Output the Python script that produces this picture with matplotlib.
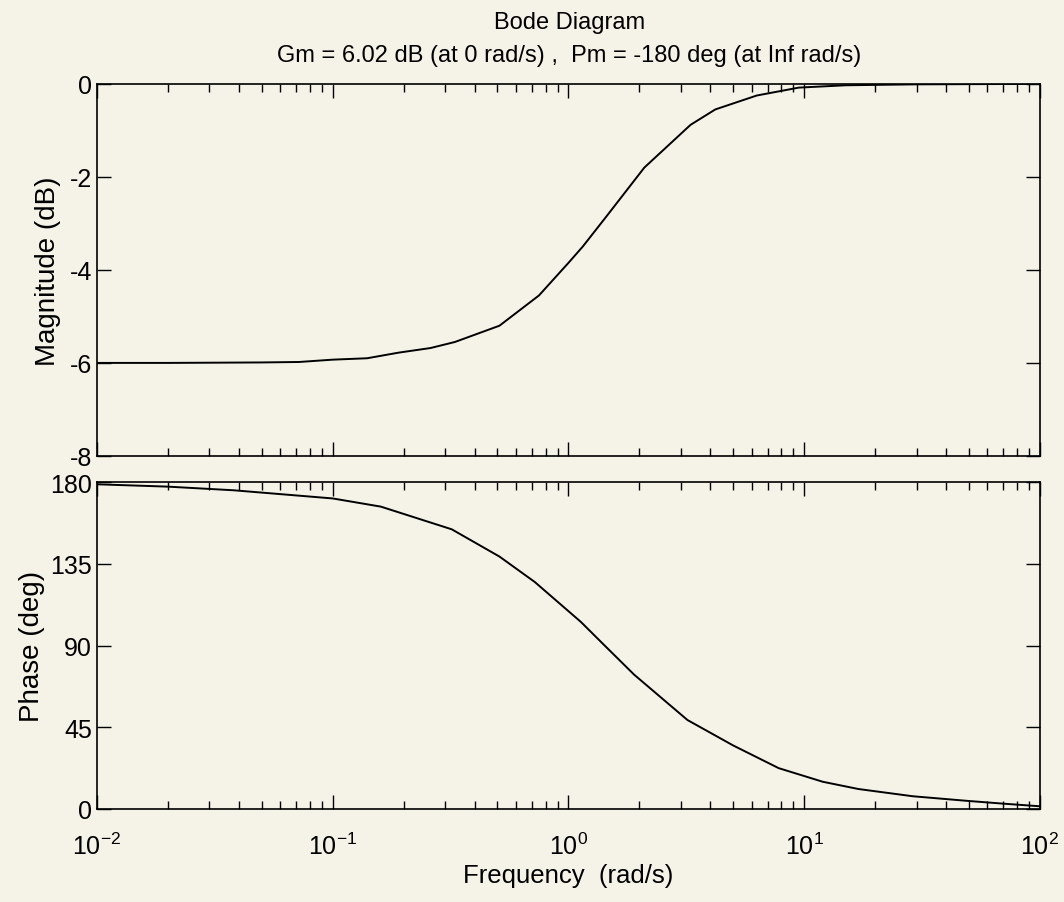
import matplotlib
matplotlib.use('Agg')
import matplotlib.pyplot as plt
from matplotlib.ticker import LogLocator, NullFormatter

plt.rcParams['font.family'] = ['Liberation Sans', 'DejaVu Sans']
plt.rcParams['mathtext.fontset'] = 'custom'
plt.rcParams['mathtext.rm'] = 'Liberation Sans'
plt.rcParams['mathtext.default'] = 'regular'
plt.rcParams['axes.unicode_minus'] = False

# magnitude curve
mag_w = [0.01, 0.02, 0.05, 0.072, 0.1, 0.14, 0.19, 0.26, 0.33, 0.51, 0.75,
         1.0, 1.15, 1.45, 2.1, 3.3, 4.2, 6.3, 9.5, 15, 30, 100]
mag_db = [-6.0, -6.0, -5.99, -5.98, -5.93, -5.9, -5.78, -5.68, -5.55, -5.2, -4.55,
          -3.85, -3.5, -2.85, -1.8, -0.88, -0.55, -0.25, -0.08, -0.03, -0.01, 0.0]

# phase curve
ph_w = [0.01, 0.02, 0.038, 0.1, 0.16, 0.32, 0.51, 0.72, 1.13, 1.4, 1.9,
        3.2, 5.0, 7.8, 12, 17, 29, 49, 69, 100]
ph_deg = [178.8, 177.5, 175.5, 171, 166.5, 154, 139, 125, 103, 91, 74,
          49, 35, 22.5, 15, 11, 7, 4.5, 3, 1.5]

mag_ticks = [0, -2, -4, -6, -8]
ph_ticks = [0, 45, 90, 135, 180]

paper = '#f5f2e7'
fig = plt.figure(figsize=(10.64, 9.03), dpi=100, facecolor=paper)
ax1 = fig.add_axes([0.0912, 0.494, 0.886, 0.412], facecolor=paper)
ax2 = fig.add_axes([0.0912, 0.103, 0.886, 0.362], facecolor=paper)

ax1.semilogx(mag_w, mag_db, color='black', lw=1.4)
ax2.semilogx(ph_w, ph_deg, color='black', lw=1.4)

for ax in (ax1, ax2):
    ax.set_xlim(0.01, 100)
    ax.xaxis.set_major_locator(LogLocator(base=10, numticks=10))
    ax.xaxis.set_minor_locator(LogLocator(base=10, subs=range(2, 10), numticks=10))
    ax.xaxis.set_minor_formatter(NullFormatter())
    ax.tick_params(which='both', direction='in', top=True, right=True,
                   labelsize=18, width=1.0)
    ax.tick_params(which='major', length=10)
    ax.tick_params(which='minor', length=6)
    for s in ax.spines.values():
        s.set_linewidth(1.2)

ax1.set_ylim(-8, 0)
ax1.set_yticks(mag_ticks)
ax1.tick_params(labelbottom=False)
ax1.set_ylabel('Magnitude (dB)', fontsize=20, labelpad=6)

ax2.set_ylim(0, 180)
ax2.set_yticks(ph_ticks)
ax2.set_ylabel('Phase (deg)', fontsize=20, labelpad=4)
ax2.set_xlabel('Frequency  (rad/s)', fontsize=18.5, labelpad=3)
ax2.tick_params(axis='x', pad=17)

fig.text(0.535, 0.974, 'Bode Diagram', ha='center', va='center', fontsize=17)
fig.text(0.535, 0.938, 'Gm = 6.02 dB (at 0 rad/s) ,  Pm = -180 deg (at Inf rad/s)',
         ha='center', va='center', fontsize=17)

fig.savefig('out.png', dpi=100, facecolor=paper)
